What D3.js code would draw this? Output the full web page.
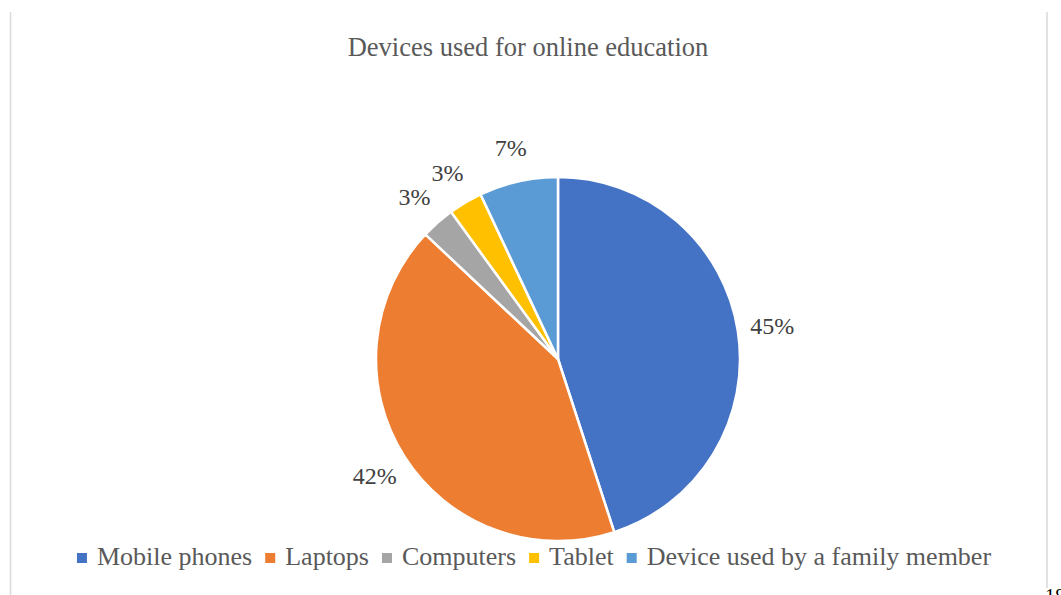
<!DOCTYPE html>
<html>
<head>
<meta charset="utf-8">
<script src="https://cdn.jsdelivr.net/npm/d3@7"></script>
<style>
    body { margin: 0; background: #ffffff; }
    svg { display: block; }
</style>
</head>
<body>
<div id="pie-chart"></div>
<script>
// shares of devices
const categories =
[
    "Mobile phones",
    "Laptops",
    "Computers",
    "Tablet",
    "Device used by a family member"
];

const shares = [45, 42, 3, 3, 7];

const colorCodes =
[
    "#4472c4", // blue
    "#ed7d31", // orange
    "#a5a5a5", // gray
    "#ffc000", // gold
    "#5b9bd5" // light blue
];

const titleText = "Devices used for online education";

function drawPieChart() {
    const width = 1061,
    height = 595;
    const cx = 558,
    cy = 359,
    radius = 182;
    const fontFamily = "'Liberation Serif', 'Times New Roman', serif";

    let svg = d3.select("#pie-chart").
    append("svg").
    attr("width", width).
    attr("height", height);

    // frame lines left and right
    svg.append("line").
    attr("x1", 10.5).attr("x2", 10.5).
    attr("y1", 12).attr("y2", height).
    attr("stroke", "#d9d9d9").attr("stroke-width", 1.5);
    svg.append("line").
    attr("x1", 1047).attr("x2", 1047).
    attr("y1", 12).attr("y2", 588).
    attr("stroke", "#d9d9d9").attr("stroke-width", 1.5);

    // page number, cut off at the bottom like in the scan
    svg.append("text").
    attr("x", 1045).
    attr("y", 603).
    style("font-family", fontFamily).
    style("font-size", "20px").
    style("fill", "#000000").
    text("18");

    svg.append("text").
    attr("x", 528).
    attr("y", 56).
    attr("text-anchor", "middle").
    style("font-family", fontFamily).
    style("font-size", "26.5px").
    style("fill", "#595959").
    text(titleText);

    let color = d3.scaleOrdinal().
    domain(categories).
    range(colorCodes);

    let pie = d3.pie().
    sort(null).
    value(d => d.value);

    let data = categories.map((c, i) => ({ name: c, value: shares[i] }));
    let arcs = pie(data);

    let arc = d3.arc().
    innerRadius(0).
    outerRadius(radius);

    let labelArc = d3.arc().
    innerRadius(217).
    outerRadius(217);

    let g = svg.append("g").
    attr("transform", "translate(" + cx + "," + cy + ")");

    g.selectAll(".slice").
    data(arcs).
    enter().
    append("path").
    attr("class", "slice").
    attr("d", arc).
    style("fill", d => color(d.data.name)).
    style("stroke", "#ffffff").
    style("stroke-width", 2.5).
    style("stroke-linejoin", "round");

    g.selectAll(".label").
    data(arcs).
    enter().
    append("text").
    attr("class", "label").
    attr("transform", d => "translate(" + labelArc.centroid(d) + ")").
    attr("text-anchor", "middle").
    attr("dy", "0.38em").
    style("font-family", fontFamily).
    style("font-size", "24px").
    style("fill", "#404040").
    text(d => d.data.value + "%");

    // legend laid out in one row, centred under the chart
    let legend = svg.append("g").attr("class", "legend");
    let xPos = 0;
    data.forEach(d => {
        let item = legend.append("g").
        attr("transform", "translate(" + xPos + ",0)");
        item.append("rect").
        attr("x", 0).
        attr("y", 553).
        attr("width", 10).
        attr("height", 10).
        style("fill", color(d.name));
        let t = item.append("text").
        attr("x", 20).
        attr("y", 565).
        style("font-family", fontFamily).
        style("font-size", "26px").
        style("fill", "#595959").
        text(d.name);
        xPos += 20 + t.node().getComputedTextLength() + 13;
    });
    let legendWidth = xPos - 13;
    legend.attr("transform", "translate(" + (534 - legendWidth / 2) + ",0)");
}

drawPieChart();
</script>
</body>
</html>
